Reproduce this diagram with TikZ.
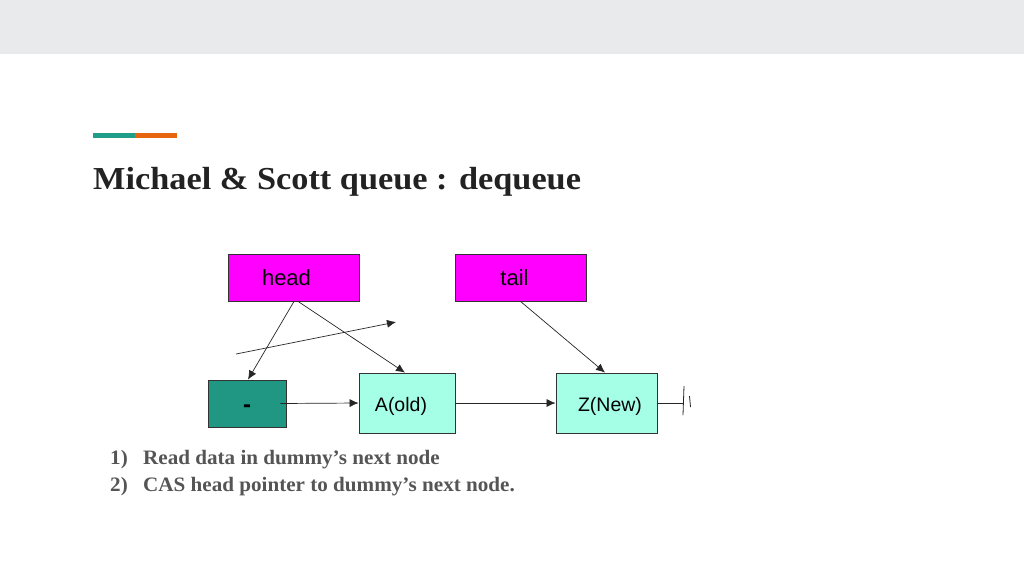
\documentclass[tikz,border=0pt]{standalone}
\usepackage{fontspec}
\setmainfont{Liberation Serif}
\newfontfamily\arialf{Liberation Sans}
\usetikzlibrary{arrows.meta}
\definecolor{bandgray}{HTML}{E9EAEC}
\definecolor{barteal}{HTML}{1F9E89}
\definecolor{barorange}{HTML}{E8650F}
\definecolor{mag}{HTML}{FF00FF}
\definecolor{dteal}{HTML}{1F9783}
\definecolor{aqua}{HTML}{A5FFE6}
\definecolor{titlec}{HTML}{222222}
\definecolor{listc}{HTML}{555555}
\tikzset{
  ptrbox/.style={draw=black!80, line width=0.8pt, fill=mag, minimum width=131pt, minimum height=47pt, inner sep=0pt, font=\arialf\fontsize{22}{24}\selectfont},
  qnode/.style={draw=black!80, line width=0.8pt, fill=aqua, minimum width=96pt, minimum height=60pt, inner sep=0pt, font=\arialf\fontsize{19.5}{22}\selectfont},
  conn/.style={line width=0.7pt, draw=black!85, -{Latex[length=9pt,width=8pt]}},
  plain/.style={line width=0.8pt, draw=black!85},
  listtext/.style={anchor=base west, inner sep=0pt, text=listc, font=\bfseries\fontsize{20.5}{22}\selectfont}
}
\begin{document}
\begin{tikzpicture}[x=1pt,y=-1pt]
\useasboundingbox (0,0) rectangle (1024,576);
\fill[white] (0,0) rectangle (1024,576);
\fill[bandgray] (0,0) rectangle (1024,54);
\fill[barteal] (93,133) rectangle (135,137.5);
\fill[barorange] (135,133) rectangle (177,137.5);
\node[anchor=base west, inner sep=0pt, text=titlec, font=\bfseries\fontsize{32}{34}\selectfont] (title) at (93,189) {\scalebox{1.072}[1]{Michael \& Scott queue : dequeue}};

\node[ptrbox] (head) at (293.5,277.5) {\hspace*{-14pt}head};
\node[ptrbox] (tail) at (520.5,277.5) {\hspace*{-12pt}tail};
\node[qnode, fill=dteal, minimum width=78pt, minimum height=47pt, font=\arialf\bfseries\fontsize{24}{26}\selectfont] (dummy) at (247,403.5) {\raisebox{-5pt}[\height][\depth]{-}};
\node[qnode] (A) at (407,403) {\hspace*{-12pt}\raisebox{-3pt}[\height][\depth]{A(old)}};
\node[qnode, minimum width=101pt] (Z) at (606.5,403) {\hspace*{7pt}\raisebox{-3pt}[\height][\depth]{Z(New)}};

\draw[conn] ([xshift=0.5pt]head.south) -- ([xshift=1pt]dummy.north);
\draw[conn] ([xshift=4.5pt]head.south) -- ([xshift=-2pt]A.north);
\coordinate (f1) at (236,354);
\coordinate (f2) at (396,322);
\draw[conn] (f1) -- (f2);
\draw[conn] (tail.south) -- ([xshift=-1.5pt]Z.north);
\draw[conn] ([xshift=-6pt]dummy.east) -- (A.west);
\draw[conn] (A.east) -- (Z.west);
\coordinate (g) at (683,403);
\draw[plain] (Z.east) -- (g);
\draw[plain] (684,386) -- (683,415);
\draw[plain] (689.5,396) -- (690.5,407);

\node[listtext] (n1) at (110,464) {\scalebox{1.03}[1]{1)}};
\node[listtext] (l1) at (143,464) {\scalebox{1.03}[1]{Read data in dummy’s next node}};
\node[listtext] (n2) at (110,491) {\scalebox{1.03}[1]{2)}};
\node[listtext] (l2) at (143,491) {\scalebox{1.03}[1]{CAS head pointer to dummy’s next node.}};
\end{tikzpicture}
\end{document}
